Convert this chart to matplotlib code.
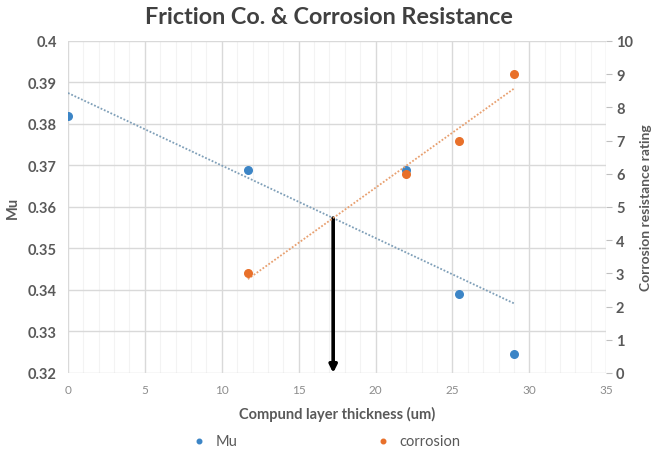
import matplotlib.pyplot as plt
from matplotlib.ticker import MultipleLocator
import numpy as np

# data
mu_x = [0, 11.7, 22, 25.4, 29]
mu_y = [0.382, 0.369, 0.3688, 0.339, 0.3245]
cor_x = [11.7, 22, 25.4, 29]
cor_y = [3, 6, 7, 9]

x_ticks = [0, 5, 10, 15, 20, 25, 30, 35]
mu_ticks = [0.32, 0.33, 0.34, 0.35, 0.36, 0.37, 0.38, 0.39, 0.4]
cor_ticks = list(range(0, 11))

blue = "#3c85c6"
orange = "#e8702a"
grey_txt = "#595959"

plt.rcParams['font.family'] = ['Lato', 'DejaVu Sans']

fig = plt.figure(figsize=(6.58, 4.56), dpi=100)
ax = fig.add_axes([0.1033, 0.180, 0.818, 0.728])
ax2 = ax.twinx()

# linear trendlines like Excel's
m1, b1 = np.polyfit(mu_x, mu_y, 1)
m2, b2 = np.polyfit(cor_x, cor_y, 1)
tx1 = np.array([min(mu_x), max(mu_x)])
tx2 = np.array([min(cor_x), max(cor_x)])

ax.plot(tx1, m1 * tx1 + b1, linestyle=(0, (1, 1)), color="#7f9fb8", lw=1.3, zorder=2)
ax.scatter(mu_x, mu_y, color=blue, s=30, zorder=3, label="Mu")

ax2.plot(tx2, m2 * tx2 + b2, linestyle=(0, (1, 1)), color="#e8a070", lw=1.3, zorder=2)
ax2.scatter(cor_x, cor_y, color=orange, s=30, zorder=3, label="corrosion")

# arrow from where the two trendlines cross down to the x axis
# corrosion line in mu units: mu = 0.32 + cor * 0.008
xi = (b1 - (0.32 + 0.008 * b2)) / (0.008 * m2 - m1)
yi = m1 * xi + b1
ax.annotate("", xy=(xi, 0.32), xytext=(xi, yi),
            arrowprops=dict(arrowstyle="-|>", color="black", lw=2.6,
                            mutation_scale=11, shrinkA=0, shrinkB=0),
            zorder=4)

ax.set_xlim(0, 35)
ax.set_ylim(0.32, 0.4)
ax2.set_ylim(0, 10)
ax.set_xticks(x_ticks)
ax.set_yticks(mu_ticks)
ax.set_yticklabels([f"{t:g}" for t in mu_ticks])
ax2.set_yticks(cor_ticks)
ax.xaxis.set_minor_locator(MultipleLocator(1))

ax.grid(True, which="major", color="#d9d9d9", lw=1)
ax.grid(True, which="minor", axis="x", color="#f3f3f3", lw=0.8)
ax.set_axisbelow(True)

for a in (ax, ax2):
    for s in a.spines.values():
        s.set_visible(False)
ax.tick_params(axis="x", length=0, labelsize=8.5, labelcolor="#8c8c8c", pad=8)
ax.tick_params(axis="x", which="minor", length=0)
ax.tick_params(axis="y", length=0, labelsize=10.5, labelcolor=grey_txt, pad=8)
for lab in ax.get_yticklabels():
    lab.set_fontweight("bold")
ax2.tick_params(axis="y", length=4, color="#bfbfbf", labelsize=10.5, labelcolor=grey_txt, pad=3)
for lab in ax2.get_yticklabels():
    lab.set_fontweight("bold")

ax.set_xlabel("Compund layer thickness (um)", fontsize=10.5, fontweight="bold",
              color=grey_txt, labelpad=8)
ax.set_ylabel("Mu", fontsize=10.5, fontweight="bold", color=grey_txt, labelpad=6)
ax2.set_ylabel("Corrosion resistance rating", fontsize=10, fontweight="bold",
               color=grey_txt, labelpad=5)

fig.suptitle("Friction Co. & Corrosion Resistance", x=0.5, y=0.985,
             fontsize=16.8, fontweight="bold", color="#404040")

h1, l1 = ax.get_legend_handles_labels()
h2, l2 = ax2.get_legend_handles_labels()
fig.legend(h1 + h2, l1 + l2, loc="center", bbox_to_anchor=(0.49, 0.03),
           ncol=2, frameon=False, fontsize=10.5, labelcolor=grey_txt,
           markerscale=0.6, handletextpad=0.1, columnspacing=9)

fig.savefig("out.png", dpi=100)
